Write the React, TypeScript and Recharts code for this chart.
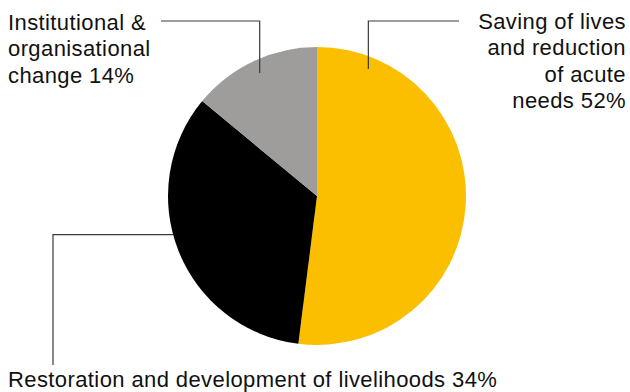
import * as React from "react"
import { PieChart, Pie, Cell } from "recharts"

// shares of funding by objective
const categories = ["Saving of lives and reduction of acute needs", "Restoration and development of livelihoods", "Institutional & organisational change"]
const shares = [52, 34, 14]
const colors = ["#FBBF00", "#000000", "#9E9D9B"]
const labelLines = [
  ["Saving of lives", "and reduction", "of acute", "needs 52%"],
  ["Restoration and development of livelihoods 34%"],
  ["Institutional &", "organisational", "change 14%"],
]

const data = categories.map((name, i) => ({ name, value: shares[i] }))

const FONT = "'Liberation Sans', Arial, Helvetica, sans-serif"
const RADIAN = Math.PI / 180

// leader line layout per slice: anchor angle / radius fraction, elbow and text placement
const layout = [
  { angle: 68, rf: 0.92, vertical: "up", elbowY: 21, endX: 459, textX: 626, anchor: "end", firstY: 29 },
  { angle: 195, rf: 1.0, vertical: "down", elbowX: 53, endY: 365, textX: 8, anchor: "start", firstY: 387 },
  { angle: 115, rf: 0.91, vertical: "up", elbowY: 21, endX: 161, textX: 8, anchor: "start", firstY: 30 },
]

function renderLabel(props: any) {
  const { cx, cy, outerRadius, index } = props
  const l: any = layout[index]
  const ax = cx + outerRadius * l.rf * Math.cos(-l.angle * RADIAN)
  const ay = cy + outerRadius * l.rf * Math.sin(-l.angle * RADIAN)
  let points: string
  if (l.vertical === "up") {
    points = `${ax},${ay} ${ax},${l.elbowY} ${l.endX},${l.elbowY}`
  } else {
    points = `${ax},${ay} ${l.elbowX},${ay} ${l.elbowX},${l.endY}`
  }
  return (
    <g key={`lab-${index}`}>
      <polyline points={points} fill="none" stroke="#3a3a3a" strokeWidth={1.2} />
      <text
        x={l.textX}
        y={l.firstY}
        textAnchor={l.anchor}
        fontFamily={FONT}
        fontSize={22}
        letterSpacing={0.4}
        fill="#111"
      >
        {labelLines[index].map((t, i) => (
          <tspan key={i} x={l.textX} dy={i === 0 ? 0 : 26.3}>
            {t}
          </tspan>
        ))}
      </text>
    </g>
  )
}

export default function App() {
  return (
    <div style={{ position: "fixed", left: 0, top: 0, width: 630, height: 392, background: "#fff" }}>
      <PieChart width={630} height={392} margin={{ top: 0, right: 0, bottom: 0, left: 0 }}>
        <Pie
          data={data}
          dataKey="value"
          nameKey="name"
          cx={317}
          cy={196}
          outerRadius={149}
          startAngle={90}
          endAngle={-270}
          stroke="none"
          labelLine={false}
          label={renderLabel}
          isAnimationActive={false}
        >
          {data.map((d, i) => (
            <Cell key={d.name} fill={colors[i]} />
          ))}
        </Pie>
      </PieChart>
    </div>
  )
}
